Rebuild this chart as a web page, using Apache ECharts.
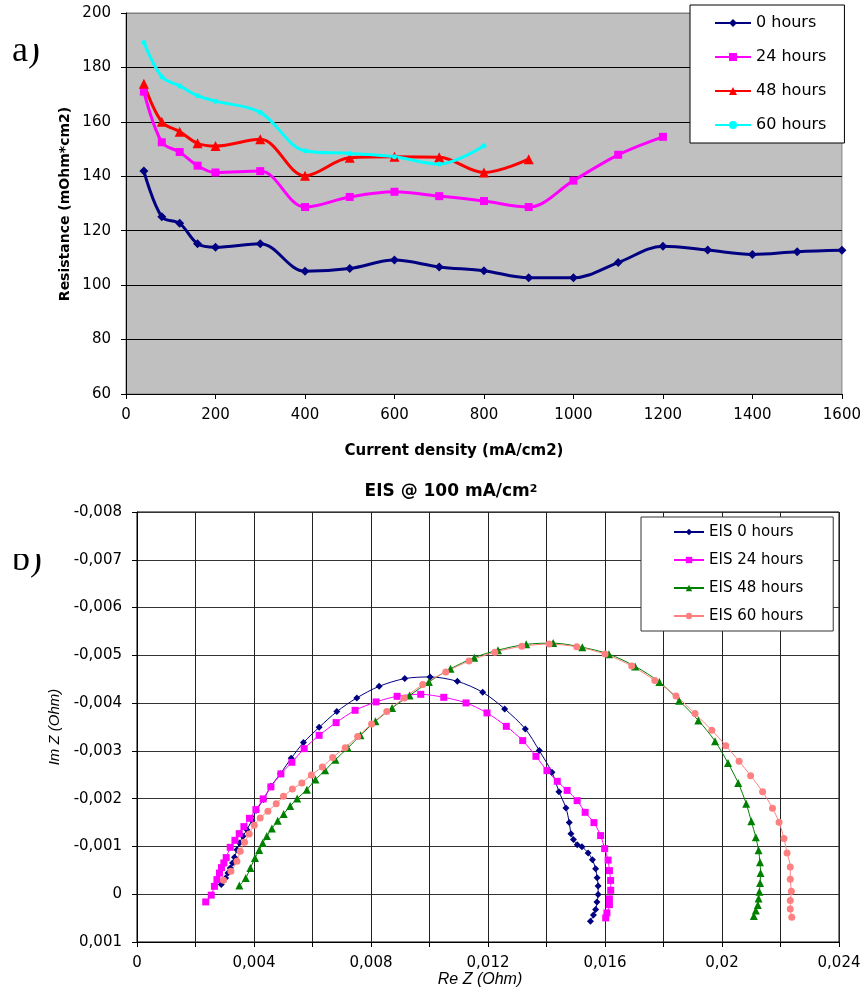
<!DOCTYPE html>
<html><head><meta charset="utf-8">
<script src="https://cdn.jsdelivr.net/npm/echarts@6/dist/echarts.min.js"></script>
<style>html,body{margin:0;padding:0;background:#fff}#c{width:864px;height:993px}</style>
</head><body><div id="c"></div><script>
// ---- Chart a) : resistance vs current density ----
const currentDensity = [40,80,120,160,200,300,400,500,600,700,800,900,1000,1100,1200,1300,1400,1500,1600];
const res0h  = [141.9,125.1,122.7,115.2,113.9,115.2,105.1,106.1,109.2,106.7,105.3,102.7,102.7,108.3,114.3,112.9,111.3,112.3,112.8];
const res24h = [171.1,152.5,148.9,143.9,141.4,141.9,128.7,132.4,134.3,132.7,130.9,128.7,138.4,147.9,154.5];
const res48h = [174.0,160.0,156.4,152.1,151.1,153.6,140.2,146.8,147.2,147.0,141.4,146.3];
const res60h = [189.2,176.6,173.2,169.6,167.6,163.5,149.4,148.4,147.2,144.5,151.2];
const resTicksY = [60,80,100,120,140,160,180,200];

// ---- Chart b) : EIS @ 100 mA/cm2 ----
const eisRe0 = [0.00288,0.003027,0.003109,0.003187,0.003266,0.003334,0.003416,0.003505,0.003621,0.003758,0.003928,0.004075,0.004325,0.004577,0.004905,0.005271,0.005691,0.006227,0.006832,0.007515,0.008277,0.009155,0.010019,0.010952,0.011819,0.012571,0.013275,0.013753,0.014187,0.014426,0.014665,0.014778,0.014836,0.014921,0.015051,0.015212,0.015423,0.01557,0.015679,0.015731,0.015765,0.015765,0.015724,0.015679,0.015604,0.015502];
const eisIm0 = [-0.000201,-0.000341,-0.000446,-0.00055,-0.000655,-0.000772,-0.000933,-0.001074,-0.001212,-0.001352,-0.001547,-0.001756,-0.00198,-0.002258,-0.002524,-0.002844,-0.003173,-0.003493,-0.003822,-0.004109,-0.004351,-0.004513,-0.004548,-0.004456,-0.004226,-0.003878,-0.00346,-0.003006,-0.002551,-0.002147,-0.001806,-0.001499,-0.001268,-0.001143,-0.001038,-0.000996,-0.000864,-0.000724,-0.000532,-0.000347,-0.00017,0.000008,0.000165,0.000322,0.000437,0.000567];
const eisRe24 = [0.00235,0.002538,0.002647,0.002733,0.002818,0.002887,0.002969,0.00305,0.003187,0.003348,0.003495,0.003655,0.003846,0.004065,0.004314,0.004577,0.004919,0.005295,0.005715,0.006227,0.006808,0.007457,0.008175,0.008892,0.009701,0.010487,0.011249,0.011966,0.012626,0.013186,0.01364,0.014016,0.014368,0.014706,0.015047,0.015321,0.015621,0.01585,0.01599,0.016106,0.016151,0.016192,0.016195,0.016151,0.016151,0.016066,0.016025];
const eisIm24 = [0.000161,0.000019,-0.000165,-0.000306,-0.000442,-0.000557,-0.000655,-0.000766,-0.000982,-0.001128,-0.001268,-0.001415,-0.001589,-0.001771,-0.001995,-0.002246,-0.002518,-0.002761,-0.003047,-0.003326,-0.003592,-0.003849,-0.004025,-0.004142,-0.004184,-0.004121,-0.004004,-0.003795,-0.003514,-0.003215,-0.002886,-0.002587,-0.002363,-0.002173,-0.001959,-0.001714,-0.001499,-0.001227,-0.000954,-0.000714,-0.000494,-0.000289,-0.000082,0.000098,0.000218,0.000391,0.000496];
const eisRe48 = [0.003501,0.003717,0.003877,0.004034,0.004178,0.004297,0.004441,0.004612,0.00481,0.005015,0.005237,0.005476,0.005807,0.006101,0.006432,0.006784,0.007208,0.007638,0.008151,0.008721,0.009319,0.009978,0.010719,0.011529,0.012342,0.013305,0.014228,0.015225,0.016134,0.017029,0.017859,0.018535,0.019191,0.019762,0.020206,0.020554,0.020827,0.021002,0.021155,0.021251,0.021299,0.021319,0.021302,0.021278,0.021251,0.021224,0.021155,0.021087];
const eisIm48 = [-0.00018,-0.000337,-0.00055,-0.000756,-0.000923,-0.00107,-0.001216,-0.001377,-0.001536,-0.001681,-0.001844,-0.002001,-0.002189,-0.002399,-0.002593,-0.002817,-0.003062,-0.003326,-0.003619,-0.003899,-0.004157,-0.004443,-0.004718,-0.004952,-0.005109,-0.00523,-0.005256,-0.005168,-0.005025,-0.004768,-0.004443,-0.004052,-0.003638,-0.003204,-0.002744,-0.00233,-0.001896,-0.001526,-0.001191,-0.000919,-0.000668,-0.000446,-0.000237,-0.000054,0.000088,0.000224,0.000339,0.000454];
const eisRe60 = [0.002958,0.003211,0.003416,0.003529,0.003676,0.003836,0.004007,0.004212,0.004475,0.004759,0.005008,0.005312,0.005636,0.005961,0.006337,0.006689,0.007116,0.007543,0.008021,0.00854,0.009138,0.00977,0.010555,0.011352,0.012233,0.013155,0.014091,0.015034,0.016001,0.016913,0.017705,0.018429,0.019078,0.019652,0.020131,0.020585,0.020978,0.021388,0.021726,0.021951,0.022119,0.022224,0.022334,0.022334,0.022371,0.022334,0.022334,0.022385];
const eisIm60 = [-0.000291,-0.000479,-0.000689,-0.000898,-0.001086,-0.001262,-0.001442,-0.001597,-0.001735,-0.001896,-0.002049,-0.0022,-0.00233,-0.002497,-0.002664,-0.002863,-0.003068,-0.003299,-0.003564,-0.003826,-0.004109,-0.004387,-0.004653,-0.004879,-0.005067,-0.005188,-0.005235,-0.005178,-0.005027,-0.004778,-0.004475,-0.00415,-0.00378,-0.00343,-0.00311,-0.002782,-0.002482,-0.002143,-0.001802,-0.001505,-0.001168,-0.000864,-0.000571,-0.000312,-0.000061,0.000134,0.000308,0.000483];

const pairX = (xs, ys) => ys.map((y, i) => [xs[i], y]);
const pairXY = (xs, ys) => xs.map((x, i) => [x, ys[i]]);
const fmtComma = v => { const n = +(+v).toFixed(3); return String(n).replace('.', ','); };

const FONT = 'DejaVu Sans';
const chart = echarts.init(document.getElementById('c'), null, {renderer: 'canvas'});

const topLine = (name, vals, color, symbol, size) => ({
  name, type: 'line', xAxisIndex: 0, yAxisIndex: 0,
  data: pairX(currentDensity, vals), smooth: 0.35,
  symbol, symbolSize: size, showAllSymbol: true,
  lineStyle: {color, width: 3}, itemStyle: {color},
  emphasis: {disabled: true}
});
const botLine = (name, xs, ys, color, symbol, size) => ({
  name, type: 'line', xAxisIndex: 1, yAxisIndex: 1,
  data: pairXY(xs, ys), smooth: 0.3,
  symbol, symbolSize: size, showAllSymbol: true,
  lineStyle: {color, width: 1}, itemStyle: {color},
  emphasis: {disabled: true}
});

const option = {
  animation: false,
  backgroundColor: '#fff',
  grid: [
    {left: 126, top: 13, width: 717, height: 381, show: true, backgroundColor: '#C0C0C0', borderColor: '#808080', borderWidth: 1},
    {left: 137, top: 512, width: 702, height: 430, show: true, backgroundColor: '#fff', borderColor: '#000', borderWidth: 1}
  ],
  xAxis: [
    {gridIndex: 0, type: 'value', min: 0, max: 1600, interval: 200,
     axisLine: {onZero: false, lineStyle: {color: '#000', width: 1}},
     axisTick: {show: true, inside: false, length: 5, lineStyle: {color: '#000'}},
     axisLabel: {color: '#000', fontFamily: FONT, fontSize: 15, margin: 14, formatter: v => String(v)},
     splitLine: {show: false}},
    {gridIndex: 1, type: 'value', min: 0, max: 0.024, interval: 0.002,
     axisLine: {onZero: false, lineStyle: {color: '#000', width: 1}},
     axisTick: {show: true, inside: false, length: 5, lineStyle: {color: '#000'}},
     axisLabel: {color: '#000', fontFamily: FONT, fontSize: 15, margin: 14,
       formatter: v => (Math.round(v / 0.002) % 2 === 0 ? fmtComma(v) : '')},
     splitLine: {show: true, lineStyle: {color: '#222', width: 1}}}
  ],
  yAxis: [
    {gridIndex: 0, type: 'value', min: resTicksY[0], max: resTicksY[resTicksY.length - 1], interval: 20,
     axisLine: {onZero: false, lineStyle: {color: '#000', width: 1}},
     axisTick: {show: true, inside: false, length: 5, lineStyle: {color: '#000'}},
     axisLabel: {color: '#000', fontFamily: FONT, fontSize: 15, margin: 15, formatter: v => String(v)},
     splitLine: {show: true, lineStyle: {color: ['#000','#000','#000','#000','#000','#000','#000','#808080'], width: 1}}},
    {gridIndex: 1, type: 'value', min: -0.008, max: 0.001, interval: 0.001, inverse: true,
     axisLine: {onZero: false, lineStyle: {color: '#000', width: 1}},
     axisTick: {show: true, inside: false, length: 5, lineStyle: {color: '#000'}},
     axisLabel: {color: '#000', fontFamily: FONT, fontSize: 15, margin: 15, formatter: v => fmtComma(v)},
     splitLine: {show: true, lineStyle: {color: '#333', width: 1}}}
  ],
  legend: [
    {data: ['0 hours', '24 hours', '48 hours', '60 hours'], orient: 'vertical', left: 690, top: 5,
     padding: [8, 18, 8, 24], itemGap: 14, itemWidth: 36, itemHeight: 10,
     backgroundColor: '#fff', borderColor: '#000', borderWidth: 1, borderRadius: 0,
     textStyle: {fontFamily: FONT, fontSize: 16, color: '#000', lineHeight: 20}},
    {data: ['EIS 0 hours', 'EIS 24 hours', 'EIS 48 hours', 'EIS 60 hours'], orient: 'vertical', left: 641, top: 517,
     padding: [6, 30, 6, 32], itemGap: 10, itemWidth: 30, itemHeight: 8,
     backgroundColor: '#fff', borderColor: '#333', borderWidth: 1, borderRadius: 0,
     textStyle: {fontFamily: FONT, fontSize: 15, color: '#000', lineHeight: 18}}
  ],
  series: [
    topLine('0 hours', res0h, '#000080', 'diamond', 9),
    topLine('24 hours', res24h, '#FF00FF', 'rect', 8),
    topLine('48 hours', res48h, '#FF0000', 'triangle', 10),
    topLine('60 hours', res60h, '#00FFFF', 'circle', 5),
    botLine('EIS 0 hours', eisRe0, eisIm0, '#000080', 'diamond', 7),
    botLine('EIS 24 hours', eisRe24, eisIm24, '#FF00FF', 'rect', 7),
    botLine('EIS 48 hours', eisRe48, eisIm48, '#008000', 'triangle', 8),
    botLine('EIS 60 hours', eisRe60, eisIm60, '#FF8080', 'circle', 7)
  ],
  graphic: [
    {type: 'text', x: 12, y: 34, style: {text: 'a)', fontFamily: 'Liberation Serif', fontSize: 36, fill: '#000', verticalAlign: 'alphabetic'}},
    {type: 'rect', shape: {x: 0, y: 28, width: 60, height: 16}, style: {fill: '#fff'}},
    {type: 'text', x: 12, y: 543, style: {text: 'b)', fontFamily: 'Liberation Serif', fontSize: 36, fill: '#000', verticalAlign: 'alphabetic'}},
    {type: 'rect', shape: {x: 0, y: 538, width: 60, height: 16}, style: {fill: '#fff'}},
    {type: 'text', x: 65, y: 204, rotation: Math.PI / 2,
     style: {text: 'Resistance (mOhm*cm2)', fontFamily: FONT, fontWeight: 'bold', fontSize: 14, fill: '#000', align: 'center', verticalAlign: 'middle'}},
    {type: 'text', x: 454, y: 451,
     style: {text: 'Current density (mA/cm2)', fontFamily: FONT, fontWeight: 'bold', fontSize: 15, fill: '#000', align: 'center', verticalAlign: 'middle'}},
    {type: 'text', x: 451, y: 492,
     style: {text: 'EIS @ 100 mA/cm{s|2}', fontFamily: FONT, fontWeight: 'bold', fontSize: 17, fill: '#000', align: 'center', verticalAlign: 'middle',
       rich: {s: {fontFamily: FONT, fontWeight: 'bold', fontSize: 11, verticalAlign: 'top', fill: '#000'}}}},
    {type: 'text', x: 55, y: 727, rotation: Math.PI / 2,
     style: {text: 'Im Z (Ohm)', fontFamily: 'Liberation Sans', fontStyle: 'italic', fontSize: 15, fill: '#000', align: 'center', verticalAlign: 'middle'}},
    {type: 'text', x: 480, y: 980,
     style: {text: 'Re Z (Ohm)', fontFamily: 'Liberation Sans', fontStyle: 'italic', fontSize: 16, fill: '#000', align: 'center', verticalAlign: 'middle'}}
  ]
};
chart.setOption(option);
</script></body></html>
